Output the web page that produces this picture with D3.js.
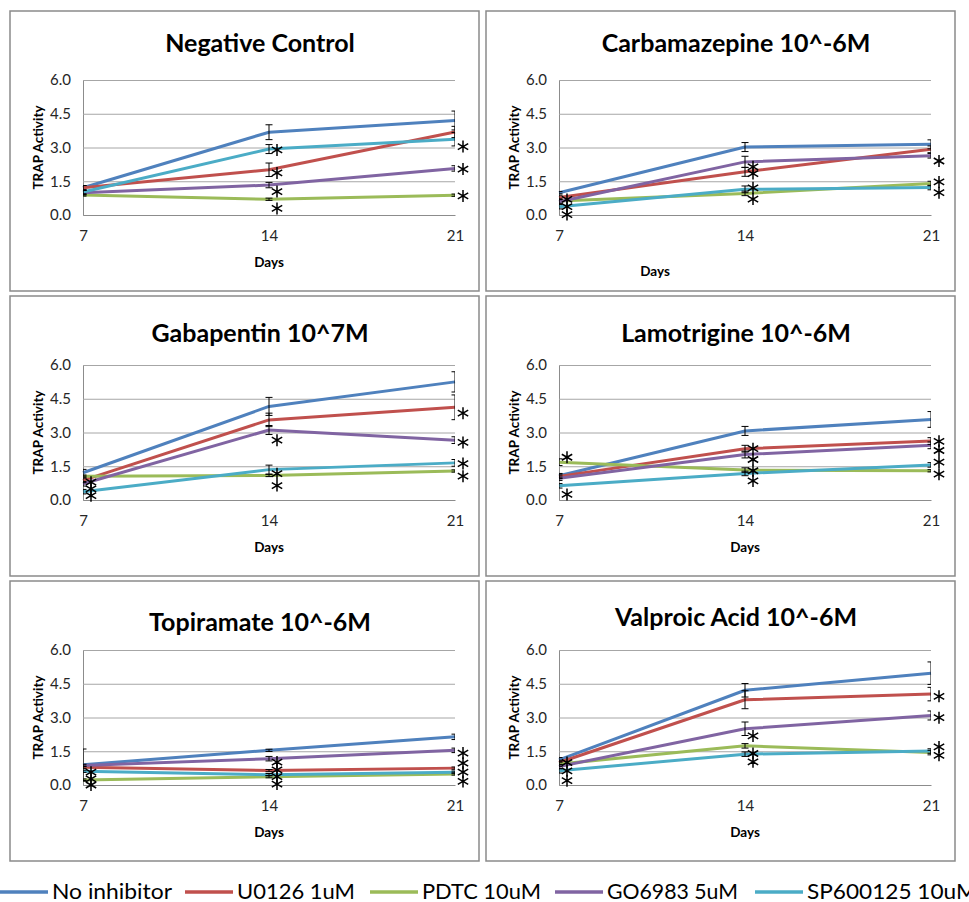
<!DOCTYPE html>
<html>
<head>
<meta charset="utf-8">
<script src="https://cdn.jsdelivr.net/npm/d3@7"></script>
<style>
  body { margin: 0; background: #fff; }
  svg { display: block; }
</style>
</head>
<body>
<div id="chart"></div>
<script>
// --- --- Data --- ---

var days = [7, 14, 21];
var yTicks = [0, 1.5, 3, 4.5, 6];
var seriesNames = ["No inhibitor", "U0126 1uM", "PDTC 10uM", "GO6983 5uM", "SP600125 10uM"];
var seriesColors = ["#4f81bd", "#c0504d", "#9bbb59", "#8064a2", "#4bacc6"];
var panelTitles = ["Negative Control", "Carbamazepine 10^-6M", "Gabapentin 10^7M",
                   "Lamotrigine 10^-6M", "Topiramate 10^-6M", "Valproic Acid 10^-6M"];

// values per series (order of seriesNames), one value per day
var negControlValues = [[1.21, 3.68, 4.20], [1.21, 2.01, 3.69], [0.89, 0.70, 0.88], [0.99, 1.33, 2.07], [1.02, 2.93, 3.37]];
var negControlErrors = [[0.10, 0.33, 0.42], [0.10, 0.30, 0.25], [0.05, 0.05, 0.05], [0.10, 0.12, 0.12], [0.10, 0.20, 0.30]];
var negControlStars  = [[14, 2.89], [14, 1.87], [14, 1.04], [14, 0.29], [21, 3.04], [21, 2.04], [21, 0.85]];

var carbamazepineValues = [[0.99, 3.02, 3.14], [0.78, 1.92, 2.92], [0.62, 0.96, 1.40], [0.59, 2.36, 2.63], [0.37, 1.14, 1.22]];
var carbamazepineErrors = [[0.05, 0.20, 0.20], [0.10, 0.20, 0.15], [0.10, 0.10, 0.10], [0.10, 0.25, 0.10], [0.10, 0.15, 0.10]];
var carbamazepineStars  = [[7, 0.69], [7, 0.37], [7, 0.02], [14, 2.14], [14, 1.84], [14, 1.21], [14, 0.71], [21, 2.40], [21, 1.47], [21, 0.99]];

var gabapentinValues = [[1.21, 4.16, 5.25], [0.87, 3.56, 4.12], [1.06, 1.09, 1.29], [0.72, 3.11, 2.66], [0.37, 1.35, 1.65]];
var gabapentinErrors = [[0.15, 0.40, 0.45], [0.10, 0.30, 0.55], [0.05, 0.05, 0.05], [0.10, 0.20, 0.15], [0.10, 0.20, 0.15]];
var gabapentinStars  = [[7, 0.79], [7, 0.49], [7, 0.19], [14, 2.66], [14, 1.17], [14, 0.64], [21, 3.86], [21, 2.56], [21, 1.62], [21, 1.06]];

var lamotrigineValues = [[1.08, 3.07, 3.58], [1.05, 2.28, 2.62], [1.68, 1.33, 1.30], [0.97, 2.02, 2.43], [0.63, 1.18, 1.56]];
var lamotrigineErrors = [[0.10, 0.20, 0.35], [0.10, 0.15, 0.15], [0.15, 0.10, 0.05], [0.10, 0.15, 0.15], [0.10, 0.10, 0.10]];
var lamotrigineStars  = [[7, 1.90], [7, 0.25], [14, 2.28], [14, 1.80], [14, 1.30], [14, 0.85], [21, 2.61], [21, 2.20], [21, 1.68], [21, 1.15]];

var topiramateValues = [[0.90, 1.54, 2.14], [0.79, 0.64, 0.75], [0.22, 0.37, 0.49], [0.87, 1.17, 1.54], [0.61, 0.46, 0.57]];
var topiramateErrors = [[0.70, 0.05, 0.12], [0.05, 0.05, 0.05], [0.05, 0.05, 0.05], [0.05, 0.10, 0.10], [0.05, 0.05, 0.05]];
var topiramateStars  = [[7, 0.57], [7, 0.27], [7, 0.0], [14, 1.02], [14, 0.67], [14, 0.37], [14, 0.04], [21, 1.42], [21, 0.97], [21, 0.57], [21, 0.16]];

var valproicValues = [[1.12, 4.21, 4.97], [1.00, 3.79, 4.04], [0.93, 1.74, 1.44], [0.82, 2.50, 3.09], [0.63, 1.37, 1.51]];
var valproicErrors = [[0.10, 0.30, 0.50], [0.10, 0.40, 0.30], [0.10, 0.10, 0.10], [0.10, 0.30, 0.20], [0.10, 0.10, 0.10]];
var valproicStars  = [[7, 1.00], [7, 0.63], [7, 0.19], [14, 2.18], [14, 1.40], [14, 1.03], [21, 3.94], [21, 2.99], [21, 1.69], [21, 1.32]];

// --- --- Layout --- ---

var width = 969;
var height = 902;
var panelW = 469, panelH = 280;
var panelPos = [[10, 11], [486, 11], [10, 296], [486, 296], [10, 581], [486, 581]];
var titleY = [32, 32, 37, 37, 41, 36];
var plot = {left: 73, right: 445, top: 69, bottom: 204};
var legendX = [0, 185, 370, 555, 755];
var legendTextW = [120, 118, 119, 131, 170];

var panels = [
  {values: negControlValues, errors: negControlErrors, stars: negControlStars},
  {values: carbamazepineValues, errors: carbamazepineErrors, stars: carbamazepineStars},
  {values: gabapentinValues, errors: gabapentinErrors, stars: gabapentinStars},
  {values: lamotrigineValues, errors: lamotrigineErrors, stars: lamotrigineStars},
  {values: topiramateValues, errors: topiramateErrors, stars: topiramateStars},
  {values: valproicValues, errors: valproicErrors, stars: valproicStars}
];

var font = "Lato, 'Open Sans', sans-serif";

var svg = d3.select("#chart").append("svg")
  .attr("width", width).attr("height", height)
  .attr("viewBox", [0, 0, width, height]);

// six-armed asterisk
var r = 6, s = r * Math.sin(Math.PI / 3), c = r * Math.cos(Math.PI / 3);
var starPath = "M0," + (-r) + "V" + r +
  "M" + s + "," + (-c) + "L" + (-s) + "," + c +
  "M" + s + "," + c + "L" + (-s) + "," + (-c);

panels.forEach(function(p, i) {
  var g = svg.append("g").attr("transform", "translate(" + panelPos[i][0] + "," + panelPos[i][1] + ")");

  g.append("rect")
    .attr("x", 0).attr("y", 0).attr("width", panelW).attr("height", panelH)
    .attr("fill", "#fff").attr("stroke", "#8a8a8a").attr("stroke-width", 1.5);

  var x = d3.scaleLinear().domain([7, 21]).range([plot.left, plot.right]);
  var y = d3.scaleLinear().domain([0, 6]).range([plot.bottom, plot.top]);

  // y axis + gridlines
  var yAxis = g.append("g")
    .attr("transform", "translate(" + plot.left + ",0)")
    .call(d3.axisLeft(y).tickValues(yTicks).tickFormat(d3.format(".1f"))
      .tickSize(-(plot.right - plot.left)).tickSizeOuter(0).tickPadding(12));
  yAxis.select(".domain").attr("stroke", "#8c8c8c");
  yAxis.selectAll(".tick line").attr("stroke", "#a6a6a6");
  yAxis.selectAll("text").attr("font-family", font).attr("font-size", 15).attr("fill", "#262626");

  // x axis
  var xAxis = g.append("g")
    .attr("transform", "translate(0," + plot.bottom + ")")
    .call(d3.axisBottom(x).tickValues(days).tickFormat(d3.format("d")).tickSize(0).tickPadding(15));
  xAxis.select(".domain").attr("stroke", "#8c8c8c");
  xAxis.selectAll("text").attr("font-family", font).attr("font-size", 15).attr("fill", "#262626");

  // titles
  g.append("text")
    .attr("x", 250).attr("y", titleY[i]).attr("dy", "0.35em")
    .attr("text-anchor", "middle")
    .attr("font-family", font).attr("font-weight", "bold").attr("font-size", 25)
    .text(panelTitles[i]);

  g.append("text")
    .attr("transform", "translate(28," + ((plot.top + plot.bottom) / 2) + ") rotate(-90)")
    .attr("text-anchor", "middle").attr("dy", "0.35em")
    .attr("font-family", font).attr("font-weight", "bold").attr("font-size", 13.5)
    .text("TRAP Activity");

  var daysX = i === 1 ? 169 : (plot.left + plot.right) / 2;
  var daysY = i === 1 ? 260 : 251;
  g.append("text")
    .attr("x", daysX).attr("y", daysY).attr("dy", "0.35em")
    .attr("text-anchor", "middle")
    .attr("font-family", font).attr("font-weight", "bold").attr("font-size", 13.5)
    .text("Days");

  // clip for error bars (caps get cut at the plot edges)
  var clipId = "clip" + i;
  g.append("clipPath").attr("id", clipId).append("rect")
    .attr("x", plot.left).attr("y", plot.top - 10)
    .attr("width", plot.right - plot.left).attr("height", plot.bottom - plot.top + 20);

  var line = d3.line().x(function(d, k) { return x(days[k]); }).y(function(d) { return y(d); });

  p.values.forEach(function(vals, si) {
    g.append("path")
      .datum(vals)
      .attr("d", line)
      .attr("fill", "none")
      .attr("stroke", seriesColors[si])
      .attr("stroke-width", 3)
      .attr("stroke-linejoin", "round");
  });

  var eg = g.append("g").attr("clip-path", "url(#" + clipId + ")")
    .attr("stroke", "#000").attr("stroke-width", 1);
  p.values.forEach(function(vals, si) {
    vals.forEach(function(v, k) {
      var e = p.errors[si][k];
      var cx = x(days[k]);
      var y1 = y(v + e), y2 = y(v - e);
      eg.append("line").attr("x1", cx).attr("x2", cx).attr("y1", y1).attr("y2", y2);
      eg.append("line").attr("x1", cx - 3.5).attr("x2", cx + 3.5).attr("y1", y1).attr("y2", y1);
      eg.append("line").attr("x1", cx - 3.5).attr("x2", cx + 3.5).attr("y1", y2).attr("y2", y2);
    });
  });

  // significance asterisks
  g.selectAll(".star").data(p.stars).enter().append("path")
    .attr("class", "star")
    .attr("d", starPath)
    .attr("transform", function(d) { return "translate(" + (x(d[0]) + 8) + "," + y(d[1]) + ")"; })
    .attr("stroke", "#000").attr("stroke-width", 1.5).attr("fill", "none");
});

// --- Legend ---
var legend = svg.append("g").attr("transform", "translate(0,892)");
seriesNames.forEach(function(name, i) {
  var lg = legend.append("g").attr("transform", "translate(" + legendX[i] + ",0)");
  lg.append("line").attr("x1", 0).attr("x2", 48).attr("y1", 0).attr("y2", 0)
    .attr("stroke", seriesColors[i]).attr("stroke-width", 3.5);
  lg.append("text").attr("x", 52).attr("dy", "0.35em")
    .attr("font-family", font).attr("font-size", 21).attr("fill", "#000")
    .attr("textLength", legendTextW[i]).attr("lengthAdjust", "spacingAndGlyphs")
    .text(name);
});
</script>
</body>
</html>
